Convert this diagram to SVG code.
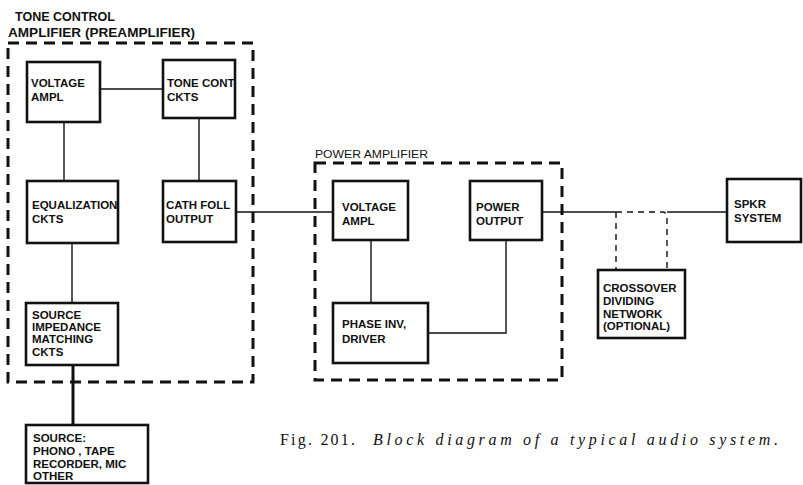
<svg xmlns="http://www.w3.org/2000/svg" width="803" height="485" viewBox="0 0 803 485">
<style>
.box{fill:#fff;stroke:#111;stroke-width:2.6}
.grp{fill:none;stroke:#111;stroke-width:3;stroke-dasharray:11 7}
.ln{fill:none;stroke:#111;stroke-width:1.4}
.dl{fill:none;stroke:#111;stroke-width:1.4;stroke-dasharray:6 5}
.t{font-family:"Liberation Sans",Arial,sans-serif;font-weight:bold;font-size:11.5px;fill:#111}
.h{font-family:"Liberation Sans",Arial,sans-serif;font-weight:bold;font-size:13px;fill:#111}
.p{font-family:"Liberation Sans",Arial,sans-serif;font-size:11.5px;fill:#111}
.c{font-family:"Liberation Serif","Times New Roman",serif;font-size:16px;fill:#111}
</style>
<rect width="803" height="485" fill="#fff"/>
<g id="preamp-group">
<rect class="grp" x="8" y="43" width="245" height="339"/>
<text class="h" x="15" y="21" textLength="100" lengthAdjust="spacingAndGlyphs">TONE CONTROL</text>
<text class="h" x="8" y="37" textLength="187" lengthAdjust="spacingAndGlyphs">AMPLIFIER (PREAMPLIFIER)</text>
</g>
<g id="power-group">
<rect class="grp" x="315" y="163" width="247" height="217"/>
<text class="p" x="315" y="158" textLength="113" lengthAdjust="spacingAndGlyphs">POWER AMPLIFIER</text>
</g>
<g id="connectors">
<line class="ln" x1="100" y1="89" x2="163" y2="89"/>
<line class="ln" x1="64" y1="122" x2="64" y2="181"/>
<line class="ln" x1="199" y1="118" x2="199" y2="181"/>
<line class="ln" x1="72" y1="243" x2="72" y2="303"/>
<line class="ln" x1="236" y1="212" x2="333" y2="212"/>
<line fill="none" stroke="#111" stroke-width="3" x1="73" y1="365" x2="73" y2="425"/>
<line class="ln" x1="371" y1="240" x2="371" y2="303"/>
<polyline class="ln" points="428,333 506,333 506,240"/>
<line class="ln" x1="542" y1="212" x2="616" y2="212"/>
<path class="dl" d="M616,212 H662 Q667,212 667,217 V270"/>
<line class="dl" x1="616" y1="212" x2="616" y2="270"/>
<line class="ln" x1="667" y1="212" x2="727" y2="212"/>
</g>
<g id="pre-voltage-ampl">
<rect class="box" x="27" y="62" width="73" height="60"/>
<text class="t" x="31" y="87">VOLTAGE</text>
<text class="t" x="31" y="101">AMPL</text>
</g>
<g id="tone-cont-ckts">
<rect class="box" x="163" y="60" width="72" height="58"/>
<text class="t" x="167" y="87">TONE CONT</text>
<text class="t" x="167" y="101">CKTS</text>
</g>
<g id="equalization-ckts">
<rect class="box" x="27" y="181" width="91" height="62"/>
<text class="t" x="32" y="209">EQUALIZATION</text>
<text class="t" x="32" y="223">CKTS</text>
</g>
<g id="cath-foll-output">
<rect class="box" x="163" y="181" width="73" height="61"/>
<text class="t" x="166" y="209">CATH FOLL</text>
<text class="t" x="166" y="223">OUTPUT</text>
</g>
<g id="source-impedance">
<rect class="box" x="26" y="303" width="92" height="62"/>
<text class="t" x="32" y="319">SOURCE</text>
<text class="t" x="32" y="331">IMPEDANCE</text>
<text class="t" x="32" y="343">MATCHING</text>
<text class="t" x="32" y="356">CKTS</text>
</g>
<g id="source">
<rect class="box" x="26" y="425" width="122" height="58"/>
<text class="t" x="33" y="442">SOURCE:</text>
<text class="t" x="33" y="455">PHONO , TAPE</text>
<text class="t" x="33" y="468">RECORDER, MIC</text>
<text class="t" x="33" y="480">OTHER</text>
</g>
<g id="power-voltage-ampl">
<rect class="box" x="333" y="181" width="75" height="59"/>
<text class="t" x="342" y="211">VOLTAGE</text>
<text class="t" x="342" y="225">AMPL</text>
</g>
<g id="power-output">
<rect class="box" x="470" y="181" width="72" height="59"/>
<text class="t" x="476" y="211">POWER</text>
<text class="t" x="476" y="225">OUTPUT</text>
</g>
<g id="phase-inv-driver">
<rect class="box" x="333" y="303" width="95" height="60"/>
<text class="t" x="342" y="328">PHASE INV,</text>
<text class="t" x="342" y="343">DRIVER</text>
</g>
<g id="crossover">
<rect class="box" x="598" y="270" width="87" height="68"/>
<text class="t" x="603" y="292">CROSSOVER</text>
<text class="t" x="603" y="305">DIVIDING</text>
<text class="t" x="603" y="318">NETWORK</text>
<text class="t" x="603" y="330">(OPTIONAL)</text>
</g>
<g id="spkr-system">
<rect class="box" x="727" y="179" width="74" height="63"/>
<text class="t" x="734" y="208">SPKR</text>
<text class="t" x="734" y="222">SYSTEM</text>
</g>
<g id="caption">
<text class="c" x="280" y="445" textLength="75" lengthAdjust="spacing">Fig. 201.</text>
<text class="c" x="373" y="445" font-style="italic" textLength="405" lengthAdjust="spacing">Block diagram of a typical audio system.</text>
</g>
</svg>
